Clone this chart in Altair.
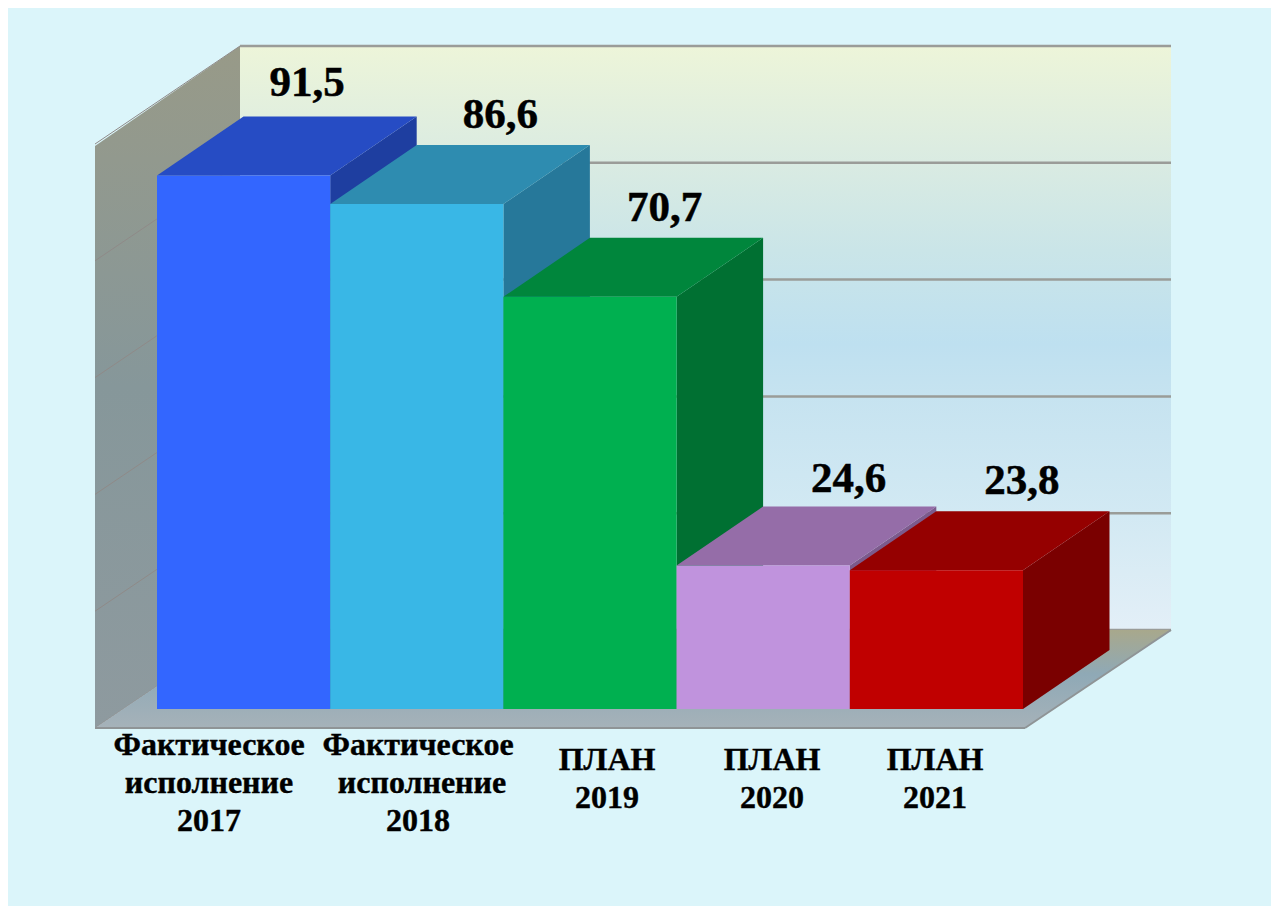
import altair as alt
import pandas as pd

# ---- chart values -------------------------------------------------------
values = [91.5, 86.6, 70.7, 24.6, 23.8]
value_texts = ["91,5", "86,6", "70,7", "24,6", "23,8"]
category_lines = [
    ["Фактическое", "исполнение", "2017"],
    ["Фактическое", "исполнение", "2018"],
    ["ПЛАН", "2019"],
    ["ПЛАН", "2020"],
    ["ПЛАН", "2021"],
]
grid_values = [0, 20, 40, 60, 80, 100]

# ---- styles -------------------------------------------------------------
front_colors = ["#3366FF", "#39B7E6", "#00B050", "#C093DD", "#C00000"]
top_colors = ["#264CC4", "#2E8CB0", "#00863C", "#956DA8", "#950000"]
side_colors = ["#1E3EA0", "#26789A", "#007032", "#7C5A8C", "#7A0000"]
PANEL = "#DBF5FA"

# ---- layout, in scale units (x: one bar width, y: one value unit) --------
SCALE_X = 173.2   # pixels per bar
SCALE_Y = 5.83    # pixels per value unit
DEPTH_X = 86.5 / SCALE_X
DEPTH_Y = 59 / SCALE_Y
X_DOMAIN = [(8 - 157) / SCALE_X, (1271 - 157) / SCALE_X]
Y_DOMAIN = [(709 - 906) / SCALE_Y, (709 - 8) / SCALE_Y]
WALL_LEFT = -62 / SCALE_X
WALL_BACK_LEFT = 83 / SCALE_X
WALL_RIGHT = 868 / SCALE_X
WALL_BACK_RIGHT = 1014 / SCALE_X
FLOOR_FRONT = -19 / SCALE_Y
FLOOR_BACK = 79 / SCALE_Y
WALL_TOP_FRONT = 563 / SCALE_Y
WALL_TOP_BACK = 663 / SCALE_Y
WALL_PER_VALUE = 5.84 / SCALE_Y

# value labels: shift from the centre of the bar's back edge (pixels)
value_shift_x = [-23, -3, -12, -1, -1]
value_rise = [21, 17, 17, 15, 17]
# category label centres and first-line baselines (pixels from bar 1 / floor)
label_center_px = [52, 261, 450, 615, 778]
label_first_baseline = [46, 46, 61, 61, 61]
label_line_shift = [[0, 0, 0], [0, 4, 0], [0, 0], [0, 0], [0, 0]]
LINE_STEP = 38

# ---- tables -------------------------------------------------------------
n = len(values)
bars = pd.DataFrame({
    "bar": range(n),
    "v": values,
    "front": front_colors,
    "x0": [float(i) for i in range(n)],
    "x1": [float(i + 1) for i in range(n)],
    "zero": [0.0] * n,
})

side_rows, top_rows = [], []
for i, v in enumerate(values):
    side_rows += [
        {"bar": i, "x": i + 1.0, "y": v, "y2": 0.0, "c": side_colors[i]},
        {"bar": i, "x": i + 1.0 + DEPTH_X, "y": v + DEPTH_Y, "y2": DEPTH_Y, "c": side_colors[i]},
    ]
    top_rows += [
        {"bar": i, "y": v, "x": float(i), "x2": i + 1.0, "c": top_colors[i]},
        {"bar": i, "y": v + DEPTH_Y, "x": i + DEPTH_X, "x2": i + 1.0 + DEPTH_X, "c": top_colors[i]},
    ]
sides = pd.DataFrame(side_rows)
tops = pd.DataFrame(top_rows)

value_labels = pd.DataFrame({
    "t": value_texts,
    "x": [i + 0.5 + DEPTH_X + s / SCALE_X for i, s in enumerate(value_shift_x)],
    "y": [v + DEPTH_Y + r / SCALE_Y for v, r in zip(values, value_rise)],
})

label_rows = []
for i, lines in enumerate(category_lines):
    for j, line in enumerate(lines):
        label_rows.append({
            "t": line,
            "x": (label_center_px[i] + label_line_shift[i][j]) / SCALE_X,
            "y": (-label_first_baseline[i] - j * LINE_STEP) / SCALE_Y,
        })
cat_labels = pd.DataFrame(label_rows)

back_wall = pd.DataFrame({
    "x": [WALL_BACK_LEFT, WALL_BACK_RIGHT],
    "y": [WALL_TOP_BACK] * 2,
    "y2": [FLOOR_BACK] * 2,
})
left_wall = pd.DataFrame({
    "x": [WALL_LEFT, WALL_BACK_LEFT],
    "y": [WALL_TOP_FRONT, WALL_TOP_BACK],
    "y2": [FLOOR_FRONT, FLOOR_BACK],
})
floor = pd.DataFrame({
    "y": [FLOOR_FRONT, FLOOR_BACK],
    "x": [WALL_LEFT, WALL_BACK_LEFT],
    "x2": [WALL_RIGHT, WALL_BACK_RIGHT],
})
grid = pd.DataFrame({
    "g": grid_values,
    "xa": [WALL_BACK_LEFT] * len(grid_values),
    "xb": [WALL_BACK_RIGHT] * len(grid_values),
    "y": [FLOOR_BACK + g * WALL_PER_VALUE for g in grid_values],
})
grid_side = pd.DataFrame({
    "xa": [WALL_LEFT] * len(grid_values),
    "xb": [WALL_BACK_LEFT] * len(grid_values),
    "ya": [FLOOR_FRONT + g * WALL_PER_VALUE for g in grid_values],
    "yb": [FLOOR_BACK + g * WALL_PER_VALUE for g in grid_values],
})
floor_edges = pd.DataFrame({
    "xa": [WALL_LEFT, WALL_RIGHT],
    "xb": [WALL_RIGHT, WALL_BACK_RIGHT],
    "ya": [FLOOR_FRONT, FLOOR_FRONT],
    "yb": [FLOOR_FRONT, FLOOR_BACK],
})

# ---- encodings ----------------------------------------------------------
xs = alt.Scale(domain=X_DOMAIN, nice=False, zero=False)
ys = alt.Scale(domain=Y_DOMAIN, nice=False, zero=False)


def X(f):
    return alt.X(f, type="quantitative", scale=xs, axis=None, title=None, stack=None)


def Y(f):
    return alt.Y(f, type="quantitative", scale=ys, axis=None, title=None, stack=None)


def grad(stops):
    return alt.Gradient(
        gradient="linear", x1=0, y1=0, x2=0, y2=1,
        stops=[alt.GradientStop(offset=o, color=c) for o, c in stops],
    )


back_layer = alt.Chart(back_wall).mark_area(
    color=grad([
        (0.0, "#EDF5D9"), (0.175, "#DCECE1"), (0.35, "#CAE5E8"),
        (0.51, "#BEE0F0"), (0.6, "#C6E3F0"), (0.8, "#D2E9F3"), (1.0, "#E3EFF7"),
    ])
).encode(x=X("x"), y=Y("y"), y2="y2")

grid_layer = alt.Chart(grid).mark_rule(color="#9A9C98", strokeWidth=2.5).encode(
    x=X("xa"), x2="xb", y=Y("y"))

wall_layer = alt.Chart(left_wall).mark_area(
    color=grad([(0.0, "#989A88"), (0.5, "#86979A"), (1.0, "#8E9A9F")])
).encode(x=X("x"), y=Y("y"), y2="y2")

grid_side_layer = alt.Chart(grid_side).mark_rule(color="#8F8A88", strokeWidth=1).encode(
    x=X("xa"), x2="xb", y=Y("ya"), y2="yb")

floor_layer = alt.Chart(floor).mark_area(
    orient="horizontal",
    color=grad([(0.0, "#A8A88C"), (0.45, "#8FA9B6"), (1.0, "#A6B2B9")]),
).encode(y=Y("y"), x=X("x"), x2="x2")

floor_edge_layer = alt.Chart(floor_edges).mark_rule(color="#8F9496", strokeWidth=2).encode(
    x=X("xa"), x2="xb", y=Y("ya"), y2="yb")

side_layer = alt.Chart(sides).mark_area().encode(
    x=X("x"), y=Y("y"), y2="y2", detail="bar:N",
    color=alt.Color("c:N", scale=None, legend=None))

top_layer = alt.Chart(tops).mark_area(orient="horizontal").encode(
    y=Y("y"), x=X("x"), x2="x2", detail="bar:N",
    color=alt.Color("c:N", scale=None, legend=None))

front_layer = alt.Chart(bars).mark_rect().encode(
    x=X("x0"), x2="x1", y=Y("v"), y2="zero",
    color=alt.Color("front:N", scale=None, legend=None))

value_layer = alt.Chart(value_labels).mark_text(
    font="Liberation Serif", fontWeight="bold", fontSize=43, color="#000000",
    stroke="#000000", strokeWidth=0.5, align="center", baseline="alphabetic",
).encode(x=X("x"), y=Y("y"), text="t:N")

cat_layer = alt.Chart(cat_labels).mark_text(
    font="Liberation Serif", fontWeight="bold", fontSize=32, color="#000000",
    stroke="#000000", strokeWidth=0.4, align="center", baseline="alphabetic",
).encode(x=X("x"), y=Y("y"), text="t:N")

chart = alt.layer(
    back_layer, grid_layer, wall_layer, grid_side_layer, floor_layer,
    floor_edge_layer, side_layer, top_layer, front_layer, value_layer, cat_layer,
).properties(
    width=1263, height=898, background=PANEL, padding=0,
    autosize=alt.AutoSizeParams(type="none"),
).configure_view(stroke=None)

chart.save("out.html", embed_options={"renderer": "svg", "actions": False})
